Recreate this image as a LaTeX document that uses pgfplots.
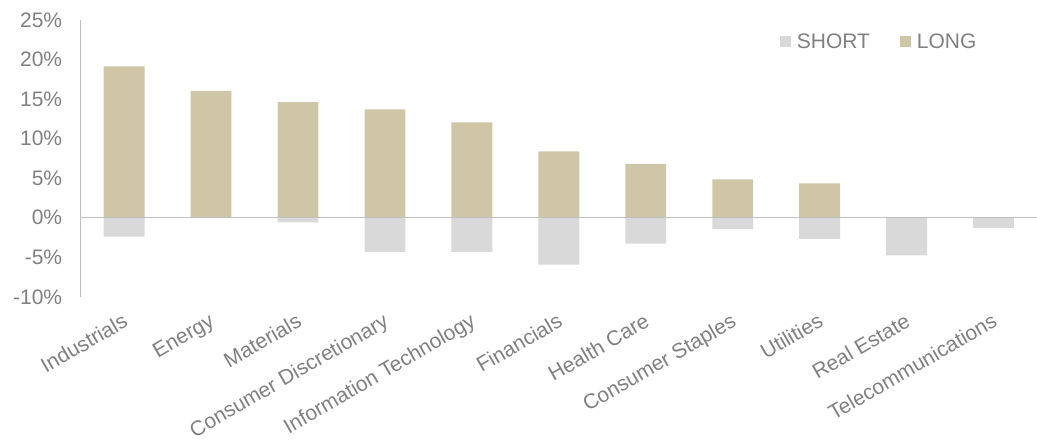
\documentclass[border=0pt]{standalone}
\usepackage{pgfplots}
\pgfplotsset{compat=1.18}
\usepackage{fontspec}
\setmainfont{Liberation Sans}
\definecolor{longc}{HTML}{CEC6A6}
\definecolor{shortc}{HTML}{D9D9D9}
\definecolor{axisc}{HTML}{BFBFBF}
\definecolor{textc}{HTML}{808080}
\begin{document}
\begin{tikzpicture}
\begin{axis}[
  scale only axis,
  width=957bp, height=277bp,
  xmin=-0.5, xmax=10.5,
  ymin=-10, ymax=25,
  ytick={-10,-5,0,5,10,15,20,25},
  yticklabel={\pgfmathprintnumber{\tick}\%},
  /pgf/number format/assume math mode=true,
  xtick={0,...,10},
  xticklabels={Industrials,Energy,Materials,Consumer Discretionary,Information Technology,Financials,Health Care,Consumer Staples,Utilities,Real Estate,Telecommunications},
  xticklabel style={rotate=30, anchor=north east, inner sep=2bp, yshift=-10bp, xshift=-8bp},
  yticklabel style={xshift=-15bp},
  tick label style={font=\fontsize{21bp}{25bp}\selectfont, text=textc},
  axis lines*=left,
  x axis line style={draw=none},
  y axis line style={draw=axisc, line width=1.5bp},
  major tick length=0pt,
  tick style={draw=none},
  ybar, bar shift=0pt, bar width=0.47,
  legend columns=2,
  legend style={draw=none, fill=none, at={(0.731,0.958)}, anchor=north west,
    font=\fontsize{21bp}{25bp}\selectfont, text=textc,
    /tikz/every odd column/.append style={column sep=4bp},
    /tikz/every even column/.append style={column sep=28bp},
    legend cell align=left, inner sep=0pt},
  legend image code/.code={\fill[#1] (0bp,-5.5bp) rectangle (11bp,5.5bp);},
  clip=false,
]
\addplot[fill=shortc, draw=none] coordinates {
 (0,-2.4) (1,0) (2,-0.6) (3,-4.33) (4,-4.33) (5,-5.94) (6,-3.28) (7,-1.43) (8,-2.69) (9,-4.75) (10,-1.3)};
\addlegendentry{SHORT}
\addplot[fill=longc, draw=none] coordinates {
 (0,19.15) (1,16.05) (2,14.6) (3,13.7) (4,12.05) (5,8.39) (6,6.82) (7,4.85) (8,4.34) (9,0) (10,0)};
\addlegendentry{LONG}
\draw[axisc, line width=1.5bp] (axis cs:-0.5,0) -- (axis cs:10.5,0);
\end{axis}
\pgfresetboundingbox
\path (current axis.south west) ++(-80.7bp,-144bp) coordinate (bl);
\path (current axis.north east) ++(-1bp,20bp) coordinate (tr);
\path (bl) rectangle (tr);
\end{tikzpicture}
\end{document}
